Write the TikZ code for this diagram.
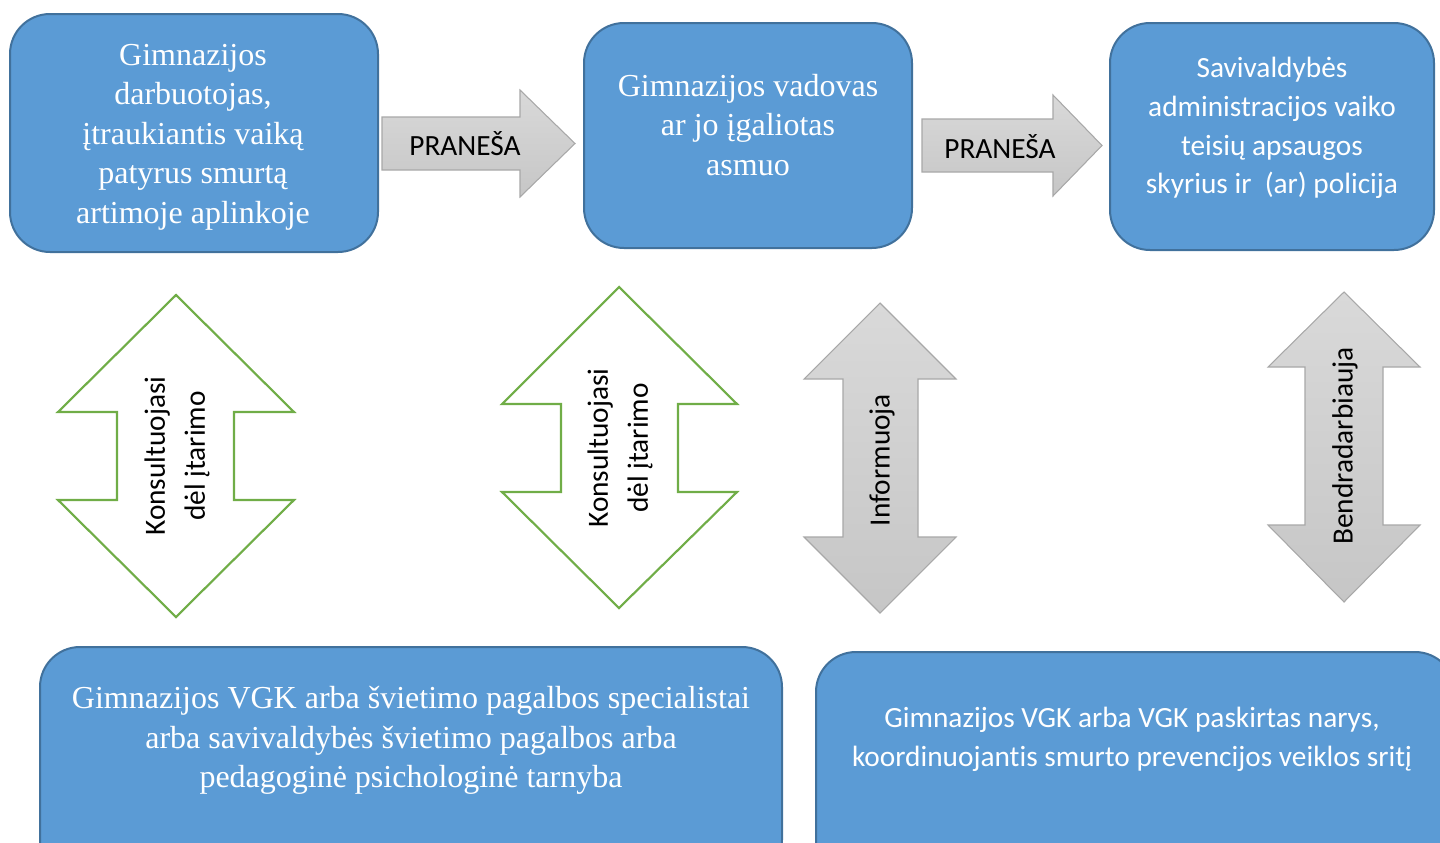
\documentclass[tikz,border=0pt]{standalone}
\usepackage{fontspec}
\setmainfont{Liberation Serif}
\newfontfamily\calib[Ligatures=NoCommon]{Carlito}
\definecolor{boxfill}{HTML}{5B9BD5}
\definecolor{boxline}{HTML}{41719C}
\definecolor{grn}{HTML}{70AD47}
\definecolor{gtop}{HTML}{D9D9D9}
\definecolor{gbot}{HTML}{C6C6C6}
\definecolor{gline}{HTML}{A8A8A8}
\begin{document}
\begin{tikzpicture}[x=0.75pt,y=-0.75pt,
  box/.style={draw=boxline, fill=boxfill, line width=1.5pt, rounded corners=30pt, inner sep=0pt},
  serift/.style={text=white, align=center, font=\fontsize{24}{29.6}\selectfont, inner sep=0pt},
  sanst/.style={text=white, align=center, font=\calib\fontsize{22}{29}\selectfont, inner sep=0pt},
  blackt/.style={text=black, align=center, font=\calib\fontsize{22}{30}\selectfont, inner sep=0pt},
  greenarrow/.style={draw=grn, fill=white, line width=1.6pt, line join=miter},
  grayarrow/.style={draw=gline, line width=0.8pt, top color=gtop, bottom color=gbot}]
\useasboundingbox (0,0) rectangle (1440,843);
\clip (0,0) rectangle (1440,843);

% top boxes
\node[box, minimum width=276pt, minimum height=178.5pt] (b1) at (194,133) {};
\node[box, minimum width=246pt, minimum height=168.75pt] (b2) at (748,135.5) {};
\node[box, minimum width=243pt, minimum height=170.25pt] (b3) at (1272,136.5) {};
% bottom boxes
\node[box, minimum width=556.5pt, minimum height=174.75pt] (b4) at (411,763.5) {};
\node[box, minimum width=479.25pt, minimum height=174.75pt] (b5) at (1135.5,768.5) {};

% texts in boxes
\node[serift] (t1) at (193,137) {Gimnazijos\\darbuotojas,\\įtraukiantis vaiką\\patyrus smurtą\\artimoje aplinkoje};
\node[serift] (t2) at (748,125) {Gimnazijos vadovas\\ar jo įgaliotas\\asmuo};
\node[sanst] (t3) at (1272,128) {Savivaldybės\\administracijos vaiko\\teisių apsaugos\\skyrius ir\ \ (ar) policija};
\node[serift] (t4) at (411,740.5) {Gimnazijos VGK arba švietimo pagalbos specialistai\\arba savivaldybės švietimo pagalbos arba\\pedagoginė psichologinė tarnyba};
\node[sanst] (t5) at (1132,739.5) {Gimnazijos VGK arba VGK paskirtas narys,\\koordinuojantis smurto prevencijos veiklos sritį};

% horizontal arrows PRANEŠA
\path[grayarrow] (382,117) -- (520,117) -- (520,90) -- (575,143.5) -- (520,197) -- (520,170) -- (382,170) -- cycle;
\node[blackt] (p1) at (465,144) {PRANEŠA};
\path[grayarrow] (922,119) -- (1053,119) -- (1053,95) -- (1102,145.5) -- (1053,196) -- (1053,172) -- (922,172) -- cycle;
\node[blackt] (p2) at (1000,147) {PRANEŠA};

% green double arrows
\path[greenarrow] (176,295) -- (294,412) -- (234,412) -- (234,500) -- (294,500) -- (176,617) -- (58,500) -- (117,500) -- (117,412) -- (58,412) -- cycle;
\node[blackt, rotate=90] (k1) at (177,456) {Konsultuojasi\\dėl įtarimo};
\path[greenarrow] (619,287) -- (737,404) -- (678,404) -- (678,492) -- (737,492) -- (619,608) -- (502,492) -- (561,492) -- (561,404) -- (502,404) -- cycle;
\node[blackt, rotate=90] (k2) at (620,448) {Konsultuojasi\\dėl įtarimo};

% gray double arrows
\path[grayarrow] (880,303) -- (956,379) -- (918,379) -- (918,537) -- (956,537) -- (880,613) -- (804,537) -- (843,537) -- (843,379) -- (804,379) -- cycle;
\node[blackt, rotate=90] (inf) at (882,460) {Informuoja};
\path[grayarrow] (1344,292) -- (1420,367) -- (1383,367) -- (1383,525) -- (1420,525) -- (1344,602) -- (1268,525) -- (1305,525) -- (1305,367) -- (1268,367) -- cycle;
\node[blackt, rotate=90] (ben) at (1345,446) {Bendradarbiauja};
\end{tikzpicture}
\end{document}
